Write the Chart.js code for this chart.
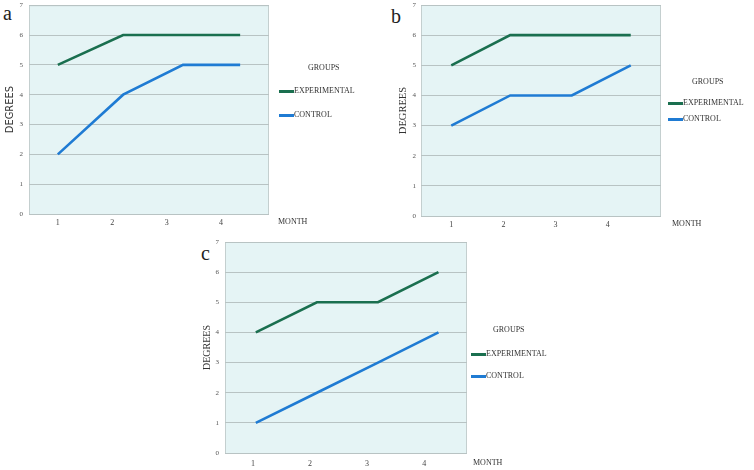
<!DOCTYPE html>
<html lang="en">
<head>
  <meta charset="UTF-8">
  <title>Degrees by month: experimental vs control</title>
  <style>
    body { margin: 0; background: #fff; width: 754px; height: 470px; position: relative; overflow: hidden; font-family: "Liberation Serif", "Times New Roman", serif; }
    canvas { position: absolute; }
    .tag { position: absolute; font-size: 20px; line-height: 20px; color: #222; }
    .lg { position: absolute; font-size: 8px; line-height: 10px; color: #333; white-space: nowrap; }
    .sw { position: absolute; width: 15px; height: 3px; }
  </style>
</head>
<body>
  <div class="tag" style="left:3px;top:3px;">a</div>
  <div class="tag" style="left:391px;top:6px;">b</div>
  <div class="tag" style="left:201px;top:243px;">c</div>

  <canvas id="chartA" width="320" height="240" style="left:0;top:-5px;"></canvas>
  <canvas id="chartB" width="361" height="240" style="left:393px;top:-5px;"></canvas>
  <canvas id="chartC" width="330" height="240" style="left:197px;top:230px;"></canvas>

  <script src="https://cdn.jsdelivr.net/npm/chart.js"></script>
  <script>
    // tick labels and series
    const months = ['1', '2', '3', '4'];
    const seriesNames = ['EXPERIMENTAL', 'CONTROL'];
    const seriesColors = ['#1a6f4f', '#1f7bd3'];

    // where each panel's vertices sit, read against its own month tick labels
    const monthXA = [1, 2.2, 3.3, 4.35];
    const monthXB = [1, 2.13, 3.31, 4.44];
    const monthXC = [1.05, 2.12, 3.19, 4.25];

    const experimentalA = [5, 6, 6, 6];
    const controlA = [2, 4, 5, 5];
    const experimentalB = [5, 6, 6, 6];
    const controlB = [3, 4, 4, 5];
    const experimentalC = [4, 5, 5, 6];
    const controlC = [1, 2, 3, 4];

    const serif = '"Liberation Serif", "Times New Roman", serif';

    const plotFrame = {
      id: 'plotFrame',
      beforeDraw(chart) {
        const { ctx, chartArea: a } = chart;
        ctx.save();
        ctx.fillStyle = '#e5f4f5';
        ctx.fillRect(a.left, a.top, a.right - a.left, a.bottom - a.top);
        ctx.strokeStyle = '#c4cfcf';
        ctx.lineWidth = 1;
        ctx.strokeRect(a.left + 0.5, a.top + 0.5, a.right - a.left - 1, a.bottom - a.top);
        ctx.restore();
      },
      afterDraw(chart, args, opts) {
        const { ctx, chartArea: a } = chart;
        ctx.save();
        ctx.font = '8px ' + serif;
        ctx.fillStyle = '#333';
        ctx.textBaseline = 'middle';
        ctx.fillText('MONTH', a.right + opts.gap, a.bottom + opts.drop);
        ctx.restore();
      }
    };

    function makePanel(id, p) {
      const line = (name, xs, ys, color) => ({
        label: name,
        data: xs.map((x, i) => ({ x: x, y: ys[i] })),
        borderColor: color,
        backgroundColor: color,
        borderWidth: 2.6,
        pointRadius: 0,
        tension: 0,
        fill: false
      });
      return new Chart(document.getElementById(id), {
        type: 'line',
        data: {
          datasets: [
            line(seriesNames[0], p.x, p.exp, seriesColors[0]),
            line(seriesNames[1], p.x, p.ctrl, seriesColors[1])
          ]
        },
        options: {
          responsive: false,
          animation: false,
          layout: { padding: { left: 0, top: p.padTop, right: p.padRight, bottom: 0 } },
          plugins: {
            legend: { display: false },
            tooltip: { enabled: false },
            plotFrame: { gap: p.monthGap, drop: p.monthDrop }
          },
          scales: {
            x: {
              type: 'linear',
              min: p.xMin,
              max: p.xMax,
              grid: { display: false, drawTicks: false, tickLength: 0 },
              border: { display: false },
              ticks: {
                stepSize: 1,
                includeBounds: false,
                maxRotation: 0,
                padding: p.xPad,
                color: '#444',
                font: { family: serif, size: 8 },
                callback: v => months[v - 1] ?? ''
              },
              afterFit: s => { s.height = p.xH; }
            },
            y: {
              min: 0,
              max: 7,
              grid: { color: '#b8c3c3', lineWidth: 1, drawTicks: false, tickLength: 0 },
              border: { display: false },
              ticks: {
                stepSize: 1,
                padding: p.yPad,
                color: '#555',
                font: { family: serif, size: 7 }
              },
              title: {
                display: true,
                text: 'DEGREES',
                color: '#333',
                font: { family: p.titleFont, size: p.titleSize },
                padding: { top: 4, bottom: 0 }
              },
              afterFit: s => { s.width = p.yW; }
            }
          }
        },
        plugins: [plotFrame]
      });
    }

    function makeLegend(L) {
      const add = (text, cls, left, top, extra) => {
        const d = document.createElement('div');
        d.className = cls;
        d.style.left = left + 'px';
        d.style.top = top + 'px';
        if (extra) Object.assign(d.style, extra);
        d.textContent = text;
        document.body.appendChild(d);
      };
      add('GROUPS', 'lg', L.titleX, L.titleY - 5);
      seriesNames.forEach((name, i) => {
        add('', 'sw', L.x, L.rowY[i] - 1.5, { background: seriesColors[i] });
        add(name, 'lg', L.x + 15, L.rowY[i] - 5);
      });
    }

    const narrowSans = '"Liberation Sans Narrow", "DejaVu Sans Condensed", sans-serif';

    makePanel('chartA', {
      x: monthXA, exp: experimentalA, ctrl: controlA,
      xMin: 0.47, xMax: 4.88,
      padTop: 10, padRight: 51, yW: 29, xH: 21, xPad: 4, yPad: 6,
      titleFont: narrowSans, titleSize: 11, monthGap: 9, monthDrop: 8
    });
    makePanel('chartB', {
      x: monthXB, exp: experimentalB, ctrl: controlB,
      xMin: 0.42, xMax: 5.02,
      padTop: 10, padRight: 93, yW: 28, xH: 19, xPad: 4, yPad: 5,
      titleFont: serif, titleSize: 10.5, monthGap: 11, monthDrop: 8
    });
    makePanel('chartC', {
      x: monthXC, exp: experimentalC, ctrl: controlC,
      xMin: 0.51, xMax: 4.75,
      padTop: 12, padRight: 60, yW: 28, xH: 17, xPad: 6, yPad: 6,
      titleFont: serif, titleSize: 10, monthGap: 6, monthDrop: 10
    });

    makeLegend({ x: 279, titleX: 308, titleY: 68, rowY: [91, 115] });
    makeLegend({ x: 668, titleX: 692, titleY: 82, rowY: [103, 119] });
    makeLegend({ x: 471, titleX: 493, titleY: 330, rowY: [354, 376] });
  </script>
</body>
</html>
